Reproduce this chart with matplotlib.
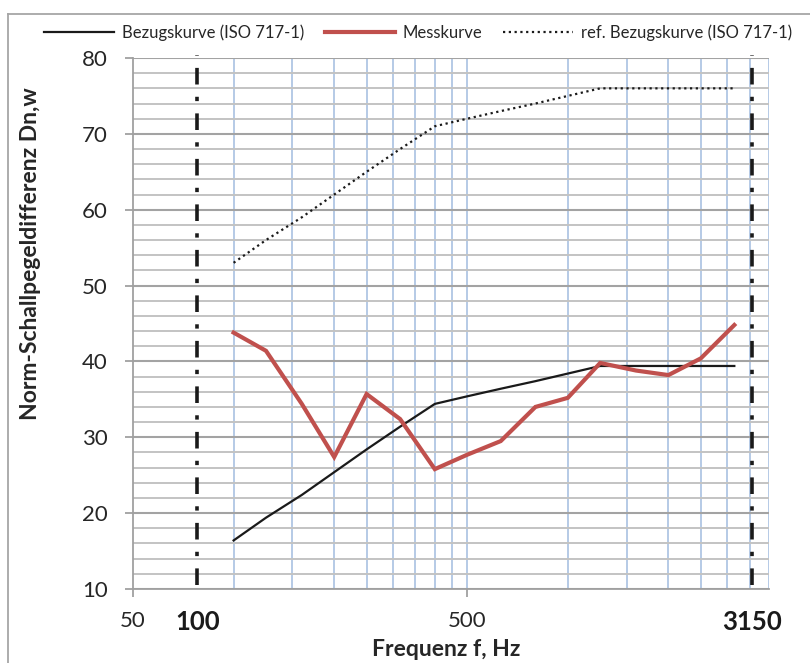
import matplotlib
matplotlib.use("Agg")
import matplotlib.pyplot as plt
import numpy as np
from matplotlib.lines import Line2D

plt.rcParams['font.family'] = ['Lato', 'DejaVu Sans']

# ---- data ----
freqs = [100, 125, 160, 200, 250, 315, 400, 500, 630, 800, 1000, 1250, 1600, 2000, 2500, 3150]
messkurve = [43.8, 41.4, 34.4, 27.4, 35.7, 32.4, 25.8, 27.7, 29.5, 34.0, 35.2, 39.8, 38.8, 38.2, 40.4, 44.8]
bezugskurve = [16.4, 19.4, 22.4, 25.4, 28.4, 31.4, 34.4, 35.4, 36.4, 37.4, 38.4, 39.4, 39.4, 39.4, 39.4, 39.4]
ref_bezugskurve = [53, 56, 59, 62, 65, 68, 71, 72, 73, 74, 75, 76, 76, 76, 76, 76]

series_names = ["Bezugskurve (ISO 717-1)", "Messkurve", "ref. Bezugskurve (ISO 717-1)"]
x_tick_labels = ["50", "500"]
x_bold_labels = ["100", "3150"]
y_ticks = [10, 20, 30, 40, 50, 60, 70, 80]
x_label = "Frequenz f, Hz"
y_label = "Norm-Schallpegeldifferenz Dn,w"

# ---- layout / style ----
XMIN, XMAX = 50, 4000
YMIN, YMAX = 10, 80
bold_label_pos = [77.8, 3570]   # positions of the bold marker lines/labels
RED = '#C0504D'
GRID_BLUE = '#B0C6E4'
GRID_MAJOR = '#A3A3A3'
GRID_MINOR = '#C3C3C3'

fig = plt.figure(figsize=(8.1, 6.63), dpi=100)
ax = fig.add_axes([133/810, 1-589/663, (769-133)/810, (589-58)/663])
ax.set_xscale('log')
ax.set_xlim(XMIN, XMAX)
ax.set_ylim(YMIN, YMAX)

# gridlines
vgrid = [XMIN*m*10**d for d in range(0, 2) for m in range(1, 10) if XMIN*m*10**d <= XMAX]
for v in vgrid:
    if v > XMIN:
        ax.axvline(v, color=GRID_BLUE, lw=1.3, zorder=0.5)
for y in np.arange(YMIN, YMAX + 0.1, 2):
    if y in y_ticks:
        ax.axhline(y, color=GRID_MAJOR, lw=1.5, zorder=0.6)
    else:
        ax.axhline(y, color=GRID_MINOR, lw=1.4, zorder=0.6)

# series
l1, = ax.plot(freqs, bezugskurve, color='#1a1a1a', lw=1.6, zorder=3)
l2, = ax.plot(freqs, messkurve, color=RED, lw=3.0, zorder=4, solid_joinstyle='miter')
l3, = ax.plot(freqs, ref_bezugskurve, color='#1a1a1a', lw=1.6, ls=(0, (1, 1.6)), zorder=3)

# dash-dot marker lines
for xp in bold_label_pos:
    ax.plot([xp, xp], [YMIN + 0.5, YMAX + 0.4], color='#1a1a1a', lw=2.6,
            ls=(0, (4.6, 3.4, 1.2, 3.4)), clip_on=False, zorder=5)

# spines
for s in ['top', 'right']:
    ax.spines[s].set_visible(False)
for s in ['left', 'bottom']:
    ax.spines[s].set_color('#A0A0A0')
    ax.spines[s].set_linewidth(1.3)

# ticks
ax.set_yticks(y_ticks)
ax.tick_params(axis='y', which='major', length=6, width=1.3, color='#A0A0A0',
               labelsize=16, pad=12, labelcolor='#262626')
ax.set_xticks([XMIN, 500])
ax.set_xticklabels(x_tick_labels)
ax.set_xticks(bold_label_pos, minor=True)
ax.set_xticklabels(x_bold_labels, minor=True, fontweight='bold')
ax.tick_params(axis='x', which='major', length=6, width=1.3, color='#A0A0A0',
               labelsize=16, pad=10, labelcolor='#262626')
ax.tick_params(axis='x', which='minor', length=0, labelsize=18.5, pad=15, labelcolor='#1a1a1a')

# axis titles
fig.text(446/810, 1-650/663, x_label, fontsize=16.5, fontweight='bold', color='#262626',
         ha='center', va='center')
fig.text(31/810, 1-254/663, y_label, fontsize=16.5, fontweight='bold', color='#262626',
         ha='center', va='center', rotation=90)

# legend
fig.legend([l1, l2, l3], series_names, loc='center', bbox_to_anchor=(418/810, 1-33/663),
           ncol=3, frameon=False, fontsize=12, handlelength=4.2, handletextpad=0.5,
           columnspacing=1.2, borderpad=0, labelcolor='#262626')

# chart area border (left and top)
fig.add_artist(Line2D([8/810, 8/810], [0, 1-14/663], transform=fig.transFigure, color='#A6A6A6', lw=1.3))
fig.add_artist(Line2D([8/810, 1], [1-14/663, 1-14/663], transform=fig.transFigure, color='#A6A6A6', lw=1.3))

fig.savefig('out.png', dpi=100)
